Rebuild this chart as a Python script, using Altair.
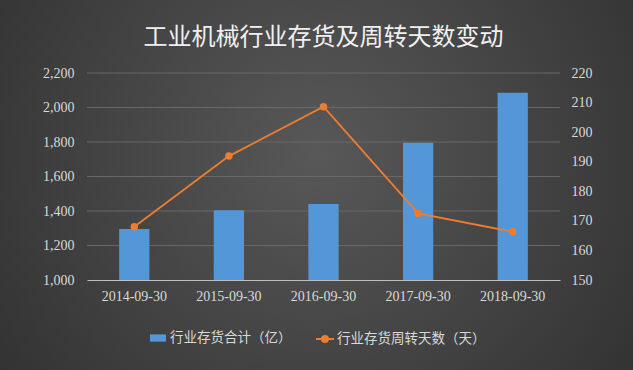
import altair as alt
import pandas as pd

dates = ["2014-09-30", "2015-09-30", "2016-09-30", "2017-09-30", "2018-09-30"]
inventory = [1295, 1405, 1440, 1795, 2085]
turnover_days = [168.0, 191.9, 208.6, 172.5, 166.3]
left_ticks = [1000, 1200, 1400, 1600, 1800, 2000, 2200]
right_ticks = [150, 160, 170, 180, 190, 200, 210, 220]
bar_label = "行业存货合计（亿）"
line_label = "行业存货周转天数（天）"
title_text = "工业机械行业存货及周转天数变动"

df = pd.DataFrame({
    "date": dates,
    "inventory": inventory,
    "days": turnover_days,
    "s1": [bar_label] * len(dates),
    "s2": [line_label] * len(dates),
})
grid_df = pd.DataFrame({"g": left_ticks[1:]})

W, H = 473, 207
PAD = {"left": 87, "top": 73, "right": 73, "bottom": 90}
num_font = "Liberation Serif"
cjk_font = "Noto Sans CJK SC"
txt_color = "#d9d9d9"

base = alt.Chart(df)

bg = base.mark_rect(
    color=alt.RadialGradient(
        gradient="radial",
        stops=[alt.GradientStop(color="#585858", offset=0),
               alt.GradientStop(color="#2a2a2a", offset=1)],
        x1=0.5, y1=0.45, r1=0, x2=0.5, y2=0.45, r2=0.75,
    ),
    clip=False,
).encode(
    x=alt.value(-PAD["left"]), x2=alt.value(W + PAD["right"]),
    y=alt.value(-PAD["top"]), y2=alt.value(H + PAD["bottom"]),
)

yscale_left = alt.Scale(domain=[1000, 2200], nice=False, zero=False)
left_axis = alt.Axis(values=left_ticks,
                     format=",d", labelFont=num_font, labelFontSize=14,
                     labelColor=txt_color, labelPadding=13, ticks=False,
                     domain=False, grid=False, zindex=1)

grid = alt.Chart(grid_df).mark_rule(color="#686868", strokeWidth=1).encode(
    y=alt.Y("g:Q", scale=yscale_left, title=None, axis=left_axis),
)

xenc = alt.X("date:N", sort=dates, title=None,
             scale=alt.Scale(paddingInner=0.68, paddingOuter=0.34),
             axis=alt.Axis(labelAngle=0, labelFont=num_font, labelFontSize=14,
                           labelColor=txt_color, labelPadding=9, ticks=False,
                           domainColor="#bfbfbf", domainWidth=1, grid=False,
                           zindex=1))

bars = base.mark_bar().encode(
    x=xenc,
    y=alt.Y("inventory:Q", title=None, scale=yscale_left, axis=left_axis),
    y2=alt.datum(1000),
    fill=alt.Fill("s1:N", title=None,
                  scale=alt.Scale(domain=[bar_label], range=["#5397d8"]),
                  legend=alt.Legend(orient="none", legendX=62, legendY=256,
                                    symbolType="M-1,-0.45H1V0.45H-1Z",
                                    symbolSize=256, labelFont=cjk_font,
                                    labelFontSize=13.5, labelColor=txt_color,
                                    labelOffset=3, padding=0, zindex=1)),
)

line = base.mark_line(
    strokeWidth=1.8,
    point=alt.OverlayMarkDef(filled=True, size=30, color="#ed7d31"),
).encode(
    x=alt.X("date:N", sort=dates),
    y=alt.Y("days:Q", title=None,
            scale=alt.Scale(domain=[150, 220], nice=False, zero=False),
            axis=alt.Axis(orient="right", values=right_ticks,
                          labelFont=num_font, labelFontSize=14,
                          labelColor=txt_color, labelPadding=11, ticks=False,
                          domain=False, grid=False, zindex=1)),
    stroke=alt.Stroke("s2:N", title=None,
                      scale=alt.Scale(domain=[line_label], range=["#ed7d31"]),
                      legend=alt.Legend(orient="none", legendX=228, legendY=256,
                                        symbolType="M-1,0H1M-0.33,0A0.33,0.33,0,1,1,0.33,0A0.33,0.33,0,1,1,-0.33,0Z",
                                        symbolSize=324, symbolStrokeWidth=2,
                                        symbolFillColor="#ed7d31",
                                        labelFont=cjk_font,
                                        labelFontSize=13.5, labelColor=txt_color,
                                        labelOffset=2, padding=0, zindex=1)),
)

left_layer = alt.layer(grid, bars)
main = alt.layer(left_layer, line).resolve_scale(y="independent", fill="independent", stroke="independent")

chart = alt.layer(bg, main).properties(
    width=W, height=H,
    padding=PAD,
    autosize=alt.AutoSizeParams(type="none"),
    background="#3a3a3a",
    title=alt.TitleParams(title_text, font=cjk_font, fontSize=24,
                          fontWeight="normal", color="#f0f0f0",
                          anchor="middle", offset=-50, zindex=1),
).configure_view(stroke=None)

chart.save("out.html", embed_options={"renderer": "svg", "actions": False})
